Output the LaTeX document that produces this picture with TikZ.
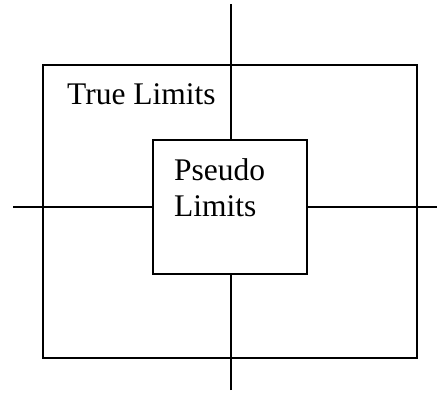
\documentclass[tikz,border=0pt]{standalone}
\usepackage{fontspec}
\setmainfont{Liberation Serif}
\begin{document}
\begin{tikzpicture}[x=1pt,y=-1pt,
  box/.style={draw, line width=1.6pt, inner sep=0pt},
  link/.style={line width=1.6pt},
  lbl/.style={anchor=base west, inner sep=0pt, font=\fontsize{31.5}{36}\selectfont}]
\useasboundingbox (0,0) rectangle (437,392);
\node[box, minimum width=374pt, minimum height=293pt] (outer) at (230,211.3) {};
\node[box, fill=white, minimum width=154pt, minimum height=134pt] (inner) at (230,207) {};
\coordinate (top) at (231,4);
\coordinate (bottom) at (231,390);
\coordinate (left) at (13,206.7);
\coordinate (right) at (437,206.7);
\draw[link] (top) -- (top |- inner.north);
\draw[link] (bottom) -- (bottom |- inner.south);
\draw[link] (left) -- (left -| inner.west);
\draw[link] (right) -- (right -| inner.east);
\node[lbl] (truelbl) at (67,104) {True Limits};
\node[lbl] (pseudo) at (174,180) {Pseudo};
\node[lbl] (limits) at (174,216) {Limits};
\end{tikzpicture}
\end{document}
